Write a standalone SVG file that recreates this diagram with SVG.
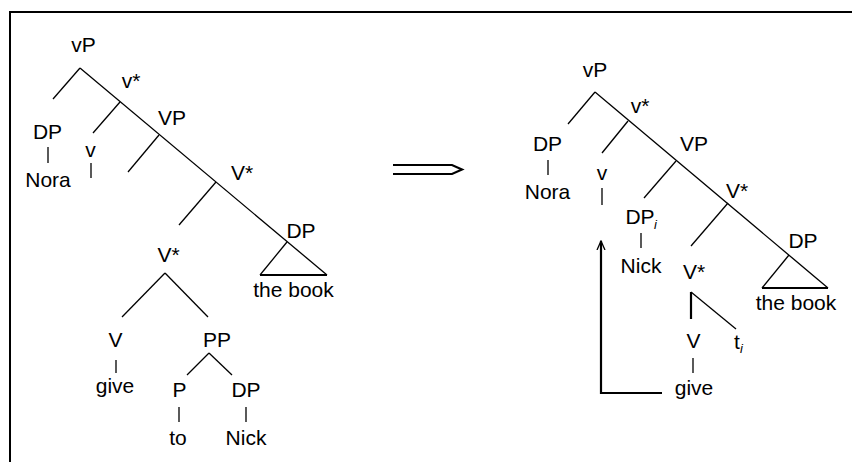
<svg xmlns="http://www.w3.org/2000/svg" width="852" height="462" viewBox="0 0 852 462">
  <defs>
    <style>
      .lbl { font-family: "Liberation Sans", Arial, sans-serif; font-size: 21px; fill: #000; text-anchor: middle; }
      .sub { font-family: "Liberation Sans", Arial, sans-serif; font-size: 13px; font-style: italic; fill: #000; }
      .br { stroke: #000; stroke-width: 1.3; fill: none; stroke-linecap: butt; }
      .thick { stroke: #000; stroke-width: 2.2; fill: none; }
    </style>
    <marker id="openHead" viewBox="0 0 10 10" refX="9" refY="5" markerWidth="10" markerHeight="10" markerUnits="userSpaceOnUse" orient="auto">
      <path d="M0,1 L9,5 L0,9" fill="none" stroke="#000" stroke-width="1.3"/>
    </marker>
  </defs>
  <rect x="0" y="0" width="852" height="462" fill="#fff"/>
  <!-- frame: only top and left edges fall inside the canvas -->
  <rect x="10" y="12" width="900" height="500" fill="none" stroke="#000" stroke-width="2"/>

  <!-- branches of both trees -->
  <g id="connectors">
    <!-- left tree -->
    <line class="br" x1="80" y1="68" x2="53" y2="99"/>
    <line class="br" x1="80" y1="68" x2="327" y2="275"/>
    <line class="br" x1="120" y1="102" x2="93" y2="133"/>
    <line class="br" x1="159" y1="135" x2="128" y2="172"/>
    <line class="br" x1="216" y1="182" x2="179" y2="225"/>
    <line class="br" x1="287" y1="242" x2="260" y2="275"/>
    <line class="thick" x1="260" y1="275" x2="327" y2="275"/>
    <line class="br" x1="48" y1="147" x2="48" y2="163"/>
    <line class="br" x1="91" y1="163" x2="91" y2="178"/>
    <line class="br" x1="165" y1="273" x2="122" y2="317"/>
    <line class="br" x1="165" y1="273" x2="208" y2="317"/>
    <line class="br" x1="116" y1="360" x2="116" y2="373"/>
    <line class="br" x1="209" y1="353" x2="187" y2="375"/>
    <line class="br" x1="209" y1="353" x2="232" y2="375"/>
    <line class="br" x1="179" y1="407" x2="179" y2="422"/>
    <line class="br" x1="246" y1="407" x2="246" y2="422"/>

    <!-- derivation arrow -->
    <path class="thick" d="M393,165 H452 L462,169.5 L452,174 H393"/>

    <!-- right tree -->
    <line class="br" x1="595" y1="92" x2="568" y2="124"/>
    <line class="br" x1="595" y1="92" x2="828" y2="288"/>
    <line class="br" x1="628" y1="121" x2="602" y2="153"/>
    <line class="br" x1="676" y1="161" x2="644" y2="198"/>
    <line class="br" x1="728" y1="203" x2="691" y2="246"/>
    <line class="br" x1="789" y1="255" x2="762" y2="288"/>
    <line class="thick" x1="762" y1="288" x2="828" y2="288"/>
    <line class="br" x1="548" y1="160" x2="548" y2="175"/>
    <line class="br" x1="602" y1="188" x2="602" y2="205"/>
    <line class="br" x1="641" y1="233" x2="641" y2="248"/>
    <line class="thick" x1="691" y1="292" x2="691" y2="319"/>
    <line class="br" x1="691" y1="292" x2="736" y2="329"/>
    <line class="br" x1="693" y1="358" x2="693" y2="373"/>

    <!-- head movement of V to v -->
    <polyline class="thick" points="662,393 601,393 601,241" marker-end="url(#openHead)"/>
  </g>

  <!-- left tree nodes -->
  <g id="L-vP"><text class="lbl" x="83.5" y="52">vP</text></g>
  <g id="L-vbar"><text class="lbl" x="131" y="88">v*</text></g>
  <g id="L-VP"><text class="lbl" x="172" y="125">VP</text></g>
  <g id="L-Vbar"><text class="lbl" x="242" y="180">V*</text></g>
  <g id="L-DP-Nora"><text class="lbl" x="47.5" y="139">DP</text><text class="lbl" x="48" y="187">Nora</text></g>
  <g id="L-v"><text class="lbl" x="90.5" y="157">v</text></g>
  <g id="L-Vbar2"><text class="lbl" x="168.5" y="262">V*</text></g>
  <g id="L-V-give"><text class="lbl" x="115.5" y="347">V</text><text class="lbl" x="115" y="393">give</text></g>
  <g id="L-PP"><text class="lbl" x="217" y="347">PP</text></g>
  <g id="L-P-to"><text class="lbl" x="179.5" y="397">P</text><text class="lbl" x="178" y="445">to</text></g>
  <g id="L-DP-Nick"><text class="lbl" x="246" y="397">DP</text><text class="lbl" x="246" y="445">Nick</text></g>
  <g id="L-DP-book"><text class="lbl" x="301" y="238">DP</text><text class="lbl" x="293.5" y="297">the book</text></g>

  <!-- right tree nodes -->
  <g id="R-vP"><text class="lbl" x="595" y="77">vP</text></g>
  <g id="R-vbar"><text class="lbl" x="640" y="113">v*</text></g>
  <g id="R-VP"><text class="lbl" x="694" y="151">VP</text></g>
  <g id="R-Vbar"><text class="lbl" x="737" y="198">V*</text></g>
  <g id="R-DP-Nora"><text class="lbl" x="547.5" y="151">DP</text><text class="lbl" x="547.5" y="199">Nora</text></g>
  <g id="R-v"><text class="lbl" x="602" y="180">v</text></g>
  <g id="R-DPi-Nick"><text class="lbl" x="640" y="224">DP</text><text class="sub" x="654" y="229">i</text><text class="lbl" x="641" y="273">Nick</text></g>
  <g id="R-Vbar2"><text class="lbl" x="694" y="279">V*</text></g>
  <g id="R-V-give"><text class="lbl" x="693.5" y="348">V</text><text class="lbl" x="694" y="395">give</text></g>
  <g id="R-trace"><text class="lbl" x="737" y="349">t</text><text class="sub" x="740" y="353">i</text></g>
  <g id="R-DP-book"><text class="lbl" x="803" y="248">DP</text><text class="lbl" x="796" y="310">the book</text></g>
</svg>
